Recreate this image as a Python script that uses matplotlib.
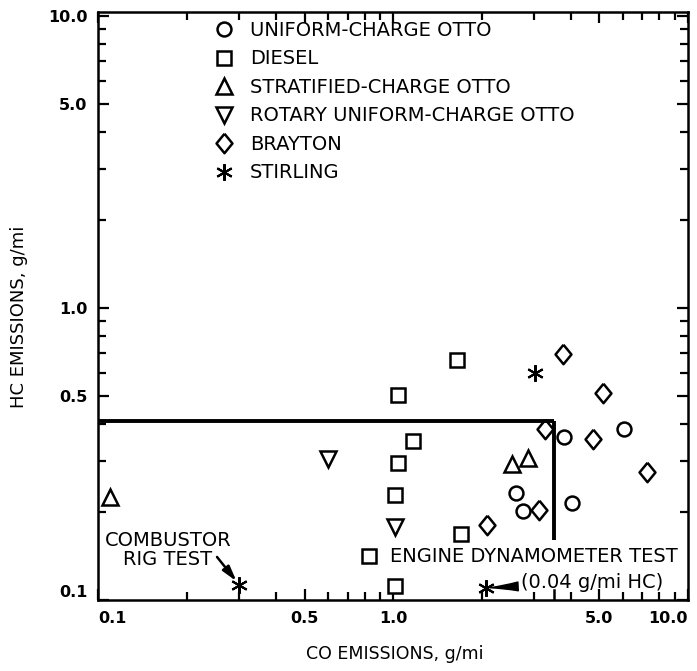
import matplotlib
matplotlib.use("Agg")
import matplotlib.pyplot as plt
from matplotlib.ticker import FixedLocator, FixedFormatter, NullFormatter

# CO and HC emissions (g/mi) by engine type
otto_co = [2.61, 2.75, 3.8, 4.05, 6.05]
otto_hc = [0.233, 0.202, 0.36, 0.214, 0.384]

diesel_co = [1.65, 1.04, 1.17, 1.04, 1.01, 1.7, 1.01, 0.83]
diesel_hc = [0.661, 0.503, 0.35, 0.294, 0.229, 0.168, 0.112, 0.141]

strat_co = [0.109, 2.53, 2.86]
strat_hc = [0.226, 0.291, 0.306]

rotary_co = [0.602, 1.01]
rotary_hc = [0.303, 0.178]

brayton_co = [3.77, 5.14, 3.27, 4.75, 7.27, 3.12, 2.08]
brayton_hc = [0.697, 0.51, 0.384, 0.357, 0.274, 0.203, 0.18]

stirling_co = [3.02, 2.06, 0.30]
stirling_hc = [0.597, 0.11, 0.113]

# emission standard box
co_limit = 3.5
hc_limit = 0.41
hc_line_bottom = 0.16

major_ticks = [0.1, 0.5, 1.0, 5.0, 10.0]
major_labels = ["0.1", "0.5", "1.0", "5.0", "10.0"]
minor_ticks = [m * d for d in (0.1, 1.0) for m in (2, 3, 4, 6, 7, 8, 9)]

plt.rcParams["font.family"] = "DejaVu Sans"

fig = plt.figure(figsize=(6.97, 6.71), dpi=100)
ax = fig.add_axes([0.1413, 0.1058, 0.8458, 0.8763])
ax.set_xscale("log")
ax.set_yscale("log")
ax.set_xlim(0.1, 10.0)
ax.set_ylim(0.1, 10.3)

tall_diamond = [(0, 1), (0.82, 0), (0, -1), (-0.82, 0), (0, 1)]

mk = dict(ls="none", mfc="white", mec="black", mew=1.8, clip_on=False)
ax.plot(otto_co, otto_hc, marker="o", ms=10, label="UNIFORM-CHARGE OTTO", **mk)
ax.plot(diesel_co, diesel_hc, marker="s", ms=10.5, label="DIESEL", **mk)
ax.plot(strat_co, strat_hc, marker="^", ms=11, label="STRATIFIED-CHARGE OTTO", **mk)
ax.plot(rotary_co, rotary_hc, marker="v", ms=11, label="ROTARY UNIFORM-CHARGE OTTO", **mk)
ax.plot(brayton_co, brayton_hc, marker=tall_diamond, ms=14, label="BRAYTON", **mk)
ax.plot(stirling_co, stirling_hc, marker=(6, 2, 0), ms=12, label="STIRLING",
        **dict(mk, mew=1.5))

ax.plot([0.1, co_limit], [hc_limit, hc_limit], color="black", lw=2.8,
        solid_capstyle="butt")
ax.plot([co_limit, co_limit], [hc_line_bottom, hc_limit], color="black", lw=2.8,
        solid_capstyle="butt")
ax.plot([co_limit, co_limit], [0.1, 0.108], color="black", lw=1.8)

# notes on the two Stirling test points
ax.text(0.172, 0.148, "COMBUSTOR\nRIG TEST", ha="center", va="center",
        fontsize=14, linespacing=1.0)
ax.annotate("", xy=(stirling_co[2], stirling_hc[2]), xytext=(0.2524, 0.1404),
            arrowprops=dict(arrowstyle="-|>,head_length=0.9,head_width=0.25",
                            color="black", lw=1.8, shrinkA=0, shrinkB=3))
ax.text(0.975, 0.141, "ENGINE DYNAMOMETER TEST", ha="left", va="center",
        fontsize=14)
ax.annotate("(0.04 g/mi HC)", xy=(stirling_co[1], stirling_hc[1]),
            xytext=(2.71, 0.1144), ha="left", va="center", fontsize=14,
            arrowprops=dict(arrowstyle="wedge,tail_width=0.45,shrink_factor=0.4",
                            color="black", shrinkA=0, shrinkB=3))

ax.xaxis.set_major_locator(FixedLocator(major_ticks))
ax.xaxis.set_major_formatter(FixedFormatter(major_labels))
ax.yaxis.set_major_locator(FixedLocator(major_ticks))
ax.yaxis.set_major_formatter(FixedFormatter(major_labels))
ax.xaxis.set_minor_locator(FixedLocator(minor_ticks))
ax.yaxis.set_minor_locator(FixedLocator(minor_ticks))
ax.xaxis.set_minor_formatter(NullFormatter())
ax.yaxis.set_minor_formatter(NullFormatter())
ax.tick_params(which="both", direction="in", top=True, right=True,
               width=1.6, labelsize=11.5)
ax.tick_params(which="major", length=8, pad=8)
ax.tick_params(which="minor", length=6)
for lab in ax.get_xticklabels() + ax.get_yticklabels():
    lab.set_fontweight("bold")
xl = ax.get_xticklabels()
xl[0].set_horizontalalignment("left")
xl[-1].set_horizontalalignment("right")
yl = ax.get_yticklabels()
yl[0].set_verticalalignment("bottom")

for s in ax.spines.values():
    s.set_linewidth(1.8)

ax.set_xlabel("CO EMISSIONS, g/mi", fontsize=12.5)
ax.set_ylabel("HC EMISSIONS, g/mi", fontsize=13)
ax.xaxis.set_label_coords(0.503, -0.0765)
ax.yaxis.set_label_coords(-0.1196, 0.481)

ax.legend(loc="upper left", bbox_to_anchor=(0.1964, 0.985), frameon=False,
          fontsize=14, handlelength=1.0, handletextpad=0.84, labelspacing=0.49,
          borderpad=0, borderaxespad=0, numpoints=1)

fig.savefig("out.png", dpi=100)
